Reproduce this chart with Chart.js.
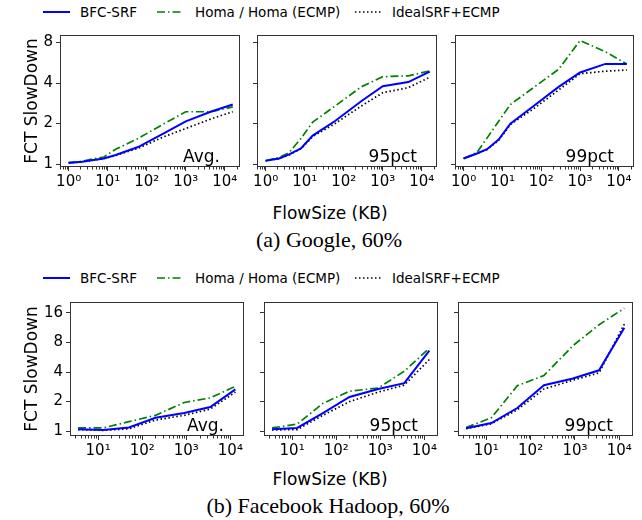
<!DOCTYPE html>
<html>
<head>
<meta charset="utf-8">
<script src="https://cdn.jsdelivr.net/npm/chart.js@4.4.0/dist/chart.umd.min.js"></script>
<style>
body{margin:0;width:642px;height:520px;background:#fff;position:relative;overflow:hidden;font-family:"DejaVu Sans";color:#000;}
canvas{position:absolute;}
.txt{position:absolute;white-space:nowrap;transform:translate(-50%,-50%);}
.cap{font-family:"Liberation Serif";font-size:22px;}
.xl{font-size:17px;}
.li{position:absolute;font-size:13.5px;white-space:nowrap;transform:translateY(-50%);}
svg{position:absolute;}
</style>
</head>
<body>
<canvas id="g1"></canvas><canvas id="g2"></canvas><canvas id="g3"></canvas>
<canvas id="h1"></canvas><canvas id="h2"></canvas><canvas id="h3"></canvas>
<div class="txt xl" style="left:330px;top:213px">FlowSize (KB)</div>
<div class="txt cap" style="left:329px;top:240px">(a) Google, 60%</div>
<div class="txt xl" style="left:330px;top:479px">FlowSize (KB)</div>
<div class="txt cap" style="left:328px;top:506px">(b) Facebook Hadoop, 60%</div>
<script>
// flow sizes (KB)
let googleSizes=[1,2.2,4,8,16,60,280,1000,4500,16000];
let hadoopSizes=[3.5,13,50,200,900,3500,13000];

let seriesNames=["BFC-SRF","Homa / Homa (ECMP)","IdealSRF+ECMP"];

// Google, 60%
let gAvgBfc=[1.02,1.04,1.07,1.10,1.17,1.34,1.70,2.08,2.46,2.77];
let gAvgHoma=[1.03,1.05,1.09,1.13,1.29,1.55,2.00,2.45,2.45,2.66];
let gAvgIdeal=[1.02,1.04,1.07,1.10,1.16,1.31,1.60,1.84,2.17,2.45];

let g95Bfc=[1.06,1.10,1.18,1.31,1.63,2.09,2.93,3.79,4.07,4.87];
let g95Homa=[1.06,1.12,1.22,1.55,2.05,2.70,3.75,4.46,4.53,4.92];
let g95Ideal=[1.06,1.10,1.17,1.30,1.60,2.00,2.70,3.39,3.70,4.42];

let g99Bfc=[1.10,1.20,1.29,1.52,2.00,2.67,3.75,4.79,5.55,5.55];
let g99Homa=[1.10,1.22,1.56,2.08,2.77,3.66,5.06,8.28,6.82,5.55];
let g99Ideal=[1.10,1.20,1.28,1.50,1.97,2.55,3.55,4.70,4.90,5.00];

// Facebook Hadoop, 60%
let hAvgBfc=[1.05,1.03,1.09,1.37,1.53,1.76,2.66];
let hAvgHoma=[1.08,1.08,1.25,1.45,1.96,2.18,2.86];
let hAvgIdeal=[1.04,1.02,1.06,1.30,1.45,1.68,2.50];

let h95Bfc=[1.05,1.08,1.53,2.23,2.69,3.08,6.60];
let h95Homa=[1.08,1.18,1.92,2.55,2.75,4.07,7.00];
let h95Ideal=[1.03,1.04,1.45,2.00,2.50,2.94,5.37];

let h99Bfc=[1.07,1.21,1.72,2.94,3.43,4.16,11.3];
let h99Homa=[1.09,1.37,2.90,3.69,7.40,12.1,17.8];
let h99Ideal=[1.06,1.19,1.65,2.69,3.30,3.92,12.3];

let googleYTicks=[1,2,4,8];
let hadoopYTicks=[1,2,4,8,16];
let googleXTicks=[1,10,100,1000,10000];
let hadoopXTicks=[10,100,1000,10000];

let sup=["\u2070","\u00b9","\u00b2","\u00b3","\u2074"];

Chart.defaults.font.family="DejaVu Sans";

let minorTicks=[];
for(let k=-1;k<=4;k++){
for(let m=2;m<=9;m++){
minorTicks.push(m*Math.pow(10,k));
}
}

const deco={
id:"deco",
afterDraw(chart,args,o){
let ctx=chart.ctx;
let a=chart.chartArea;
let xs=chart.scales.x;
ctx.save();
ctx.strokeStyle="#333";
ctx.lineWidth=1;
minorTicks.forEach(v=>{
let px=Math.round(xs.getPixelForValue(v))+0.5;
if(px<a.left||px>a.right)return;
ctx.beginPath();
ctx.moveTo(px,a.bottom);
ctx.lineTo(px,a.bottom+2.5);
ctx.stroke();
});
ctx.strokeRect(Math.round(a.left)+0.5,Math.round(a.top)+0.5,Math.round(a.right-a.left)-1,Math.round(a.bottom-a.top)-1);
ctx.font="17px DejaVu Sans";
ctx.fillStyle="#000";
ctx.textAlign="right";
ctx.textBaseline="alphabetic";
ctx.fillText(o.label,a.right-20,a.bottom-5);
ctx.restore();
}
};

function pts(sizes,vals){
return sizes.map((s,i)=>({x:s,y:vals[i]}));
}

function panel(id,box,sizes,series,opt){
let c=document.getElementById(id);
let Ly=opt.first?box.L-22:10;
c.width=Ly+(box.R-box.L)+6;
c.height=6+(box.B-box.T)+30;
c.style.left=(box.L-Ly)+"px";
c.style.top=(box.T-6)+"px";

new Chart(c,{
type:"line",
data:{
datasets:[
{label:seriesNames[0],data:pts(sizes,series[0]),borderColor:"#0000ff",borderWidth:2},
{label:seriesNames[1],data:pts(sizes,series[1]),borderColor:"#008000",borderWidth:1.7,borderDash:[8,3,1.5,3]},
{label:seriesNames[2],data:pts(sizes,series[2]),borderColor:"#000000",borderWidth:1.7,borderDash:[1.5,2.5]}
]
},
options:{
responsive:false,
animation:false,
events:[],
layout:{padding:{top:6,right:6,left:0,bottom:0}},
elements:{point:{radius:0},line:{tension:0,fill:false}},
plugins:{legend:{display:false},tooltip:{enabled:false},deco:{label:opt.label}},
scales:{
x:{
type:"logarithmic",
min:opt.xmin,max:opt.xmax,
afterBuildTicks:s=>{s.ticks=opt.xticks.map(v=>({value:v}));},
afterFit:s=>{s.height=30;},
grid:{drawOnChartArea:false,tickLength:4,tickColor:"#333"},
border:{display:false},
ticks:{autoSkip:false,maxRotation:0,padding:2,color:"#000",font:{size:15},
callback:v=>"10"+sup[Math.round(Math.log10(v))]}
},
y:{
type:"logarithmic",
min:opt.ymin,max:opt.ymax,
afterBuildTicks:s=>{s.ticks=opt.yticks.map(v=>({value:v}));},
afterFit:s=>{s.width=Ly;},
grid:{drawOnChartArea:false,tickLength:4,tickColor:"#333"},
border:{display:false},
ticks:{padding:3,color:"#000",font:{size:15},
callback:v=>opt.first?String(v):""},
title:{display:!!opt.first,text:"FCT SlowDown",padding:0,color:"#000",font:{size:17}}
}
}
},
plugins:[deco]
});
}

let gOpt={xmin:0.62,xmax:24500,ymin:0.952,ymax:9.1,xticks:googleXTicks,yticks:googleYTicks};
let hOpt={xmin:2.3,xmax:20400,ymin:0.894,ymax:20.6,xticks:hadoopXTicks,yticks:hadoopYTicks};

panel("g1",{L:60,R:240,T:29,B:167},googleSizes,[gAvgBfc,gAvgHoma,gAvgIdeal],{...gOpt,first:true,label:"Avg."});
panel("g2",{L:257,R:437,T:29,B:167},googleSizes,[g95Bfc,g95Homa,g95Ideal],{...gOpt,label:"95pct"});
panel("g3",{L:455,R:634,T:29,B:167},googleSizes,[g99Bfc,g99Homa,g99Ideal],{...gOpt,label:"99pct"});

panel("h1",{L:70,R:244,T:296,B:436},hadoopSizes,[hAvgBfc,hAvgHoma,hAvgIdeal],{...hOpt,first:true,label:"Avg."});
panel("h2",{L:264,R:438,T:296,B:436},hadoopSizes,[h95Bfc,h95Homa,h95Ideal],{...hOpt,label:"95pct"});
panel("h3",{L:458,R:633,T:296,B:436},hadoopSizes,[h99Bfc,h99Homa,h99Ideal],{...hOpt,label:"99pct"});

// legends
function legend(y){
let items=[
{x:43,w:27,tx:80,color:"#0000ff",dash:"",width:2},
{x:157,w:26,tx:195,color:"#008000",dash:"8 3 1.5 3",width:1.7},
{x:355,w:26,tx:392,color:"#000000",dash:"1.5 2.5",width:1.7}
];
items.forEach((it,i)=>{
let s=document.createElementNS("http://www.w3.org/2000/svg","svg");
s.setAttribute("width",it.w);
s.setAttribute("height",6);
s.style.left=it.x+"px";
s.style.top=(y-3)+"px";
let l=document.createElementNS("http://www.w3.org/2000/svg","line");
l.setAttribute("x1",0);l.setAttribute("x2",it.w);
l.setAttribute("y1",3);l.setAttribute("y2",3);
l.setAttribute("stroke",it.color);
l.setAttribute("stroke-width",it.width);
if(it.dash)l.setAttribute("stroke-dasharray",it.dash);
s.appendChild(l);
document.body.appendChild(s);
let t=document.createElement("div");
t.className="li";
t.style.left=it.tx+"px";
t.style.top=y+"px";
t.textContent=seriesNames[i];
document.body.appendChild(t);
});
}
legend(12);
legend(278);
</script>
</body>
</html>
